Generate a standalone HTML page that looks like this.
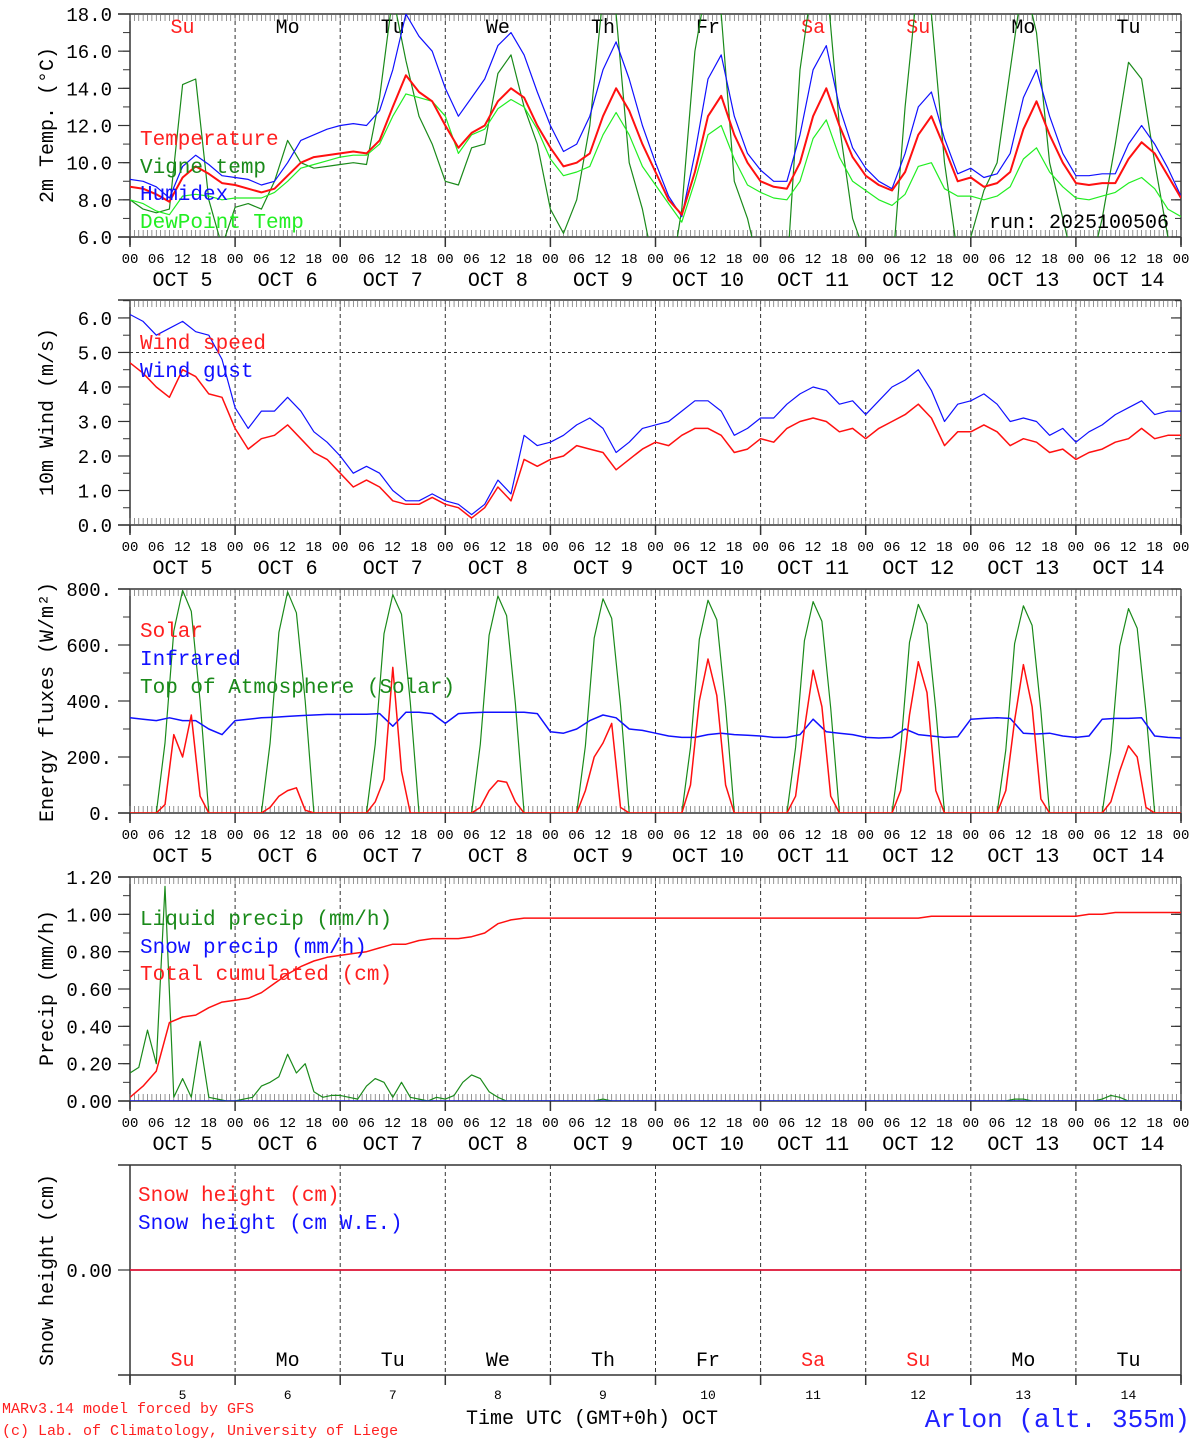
<!DOCTYPE html>
<html><head><meta charset="utf-8"><style>
body{margin:0;background:#fff;}
svg{display:block;font-family:"Liberation Mono","DejaVu Sans Mono",monospace;}
</style></head><body>
<svg id="chart" width="1194" height="1440" viewBox="0 0 1194 1440" xmlns="http://www.w3.org/2000/svg"></svg>
<script>
// ---- data (3-hourly unless noted) ----
const dayNames = ["Su","Mo","Tu","We","Th","Fr","Sa","Su","Mo","Tu"];
const dayNums = ["5","6","7","8","9","10","11","12","13","14"];
const tempTicks = ["6.0","8.0","10.0","12.0","14.0","16.0","18.0"];
const windTicks = ["0.0","1.0","2.0","3.0","4.0","5.0","6.0"];
const fluxTicks = ["0.","200.","400.","600.","800."];
const precTicks = ["0.00","0.20","0.40","0.60","0.80","1.00","1.20"];

const temperature = [8.7,8.6,8.3,7.9,9.2,9.8,9.4,8.9, 8.8,8.6,8.4,8.6,9.3,10.0,10.3,10.4, 10.5,10.6,10.5,11.2,13.0,14.7,13.8,13.3, 12.0,10.8,11.6,12.0,13.3,14.0,13.5,12.0, 10.8,9.8,10.0,10.5,12.5,14.0,12.8,11.0, 9.5,8.0,7.2,9.5,12.5,13.6,11.5,10.0, 9.0,8.7,8.6,10.0,12.5,14.0,12.0,10.3, 9.3,8.8,8.5,9.5,11.5,12.5,10.8,9.0, 9.2,8.7,8.9,9.5,11.8,13.3,11.5,10.0, 8.9,8.8,8.9,8.9,10.2,11.1,10.5,9.3,8.1];
const humidex = [9.1,9.0,8.7,8.1,9.8,10.4,9.9,9.3, 9.2,9.1,8.8,9.0,10.0,11.2,11.5,11.8, 12.0,12.1,12.0,12.8,15.0,18.0,16.8,16.0, 14.0,12.5,13.5,14.5,16.3,17.0,15.8,13.8, 12.0,10.6,11.0,12.5,15.0,16.5,14.5,12.0, 10.0,8.2,7.1,10.5,14.5,15.8,12.5,10.5, 9.6,9.0,9.0,11.5,15.0,16.3,13.0,10.8, 9.7,9.0,8.6,10.5,13.0,13.8,11.3,9.4, 9.7,9.2,9.4,10.5,13.5,15.0,12.5,10.5, 9.3,9.3,9.4,9.4,11.0,12.0,11.0,9.7,8.2];
const dewpoint = [8.0,7.8,7.4,7.2,8.2,8.3,8.2,8.0, 8.1,8.1,8.1,8.4,9.0,9.7,9.9,10.1, 10.3,10.4,10.4,11.0,12.5,13.7,13.5,13.3, 12.5,10.5,11.5,11.8,12.9,13.4,13.0,11.8, 10.2,9.3,9.5,9.8,11.5,12.7,11.5,9.8, 8.8,7.8,6.8,9.0,11.5,12.0,10.2,8.8, 8.4,8.1,8.0,9.0,11.3,12.3,10.3,9.0, 8.5,8.0,7.7,8.3,9.8,10.0,8.6,8.2, 8.2,8.0,8.2,8.7,10.2,10.8,9.5,8.7, 8.1,8.0,8.2,8.4,8.9,9.2,8.6,7.5,7.1];
const vigne = [8.0,7.5,7.3,7.5,14.2,14.5,8.0,5.5, 7.6,7.8,7.5,9.0,11.2,10.0,9.7,9.8, 9.9,10.0,9.9,13.5,19,15.5,12.5,11.0, 9.0,8.8,10.8,11.0,14.8,15.8,13.0,11.0, 7.5,6.2,8.0,12.0,19,18,10.0,7.5, 4.0,3,7.5,16,20,18,9.0,7.0, 4.0,3,4,15,20,20,12,7.0, 5.0,3,4,13,20,18,10,5, 6.0,8.5,10,15,20,17,10,7, 4,4,7,11,15.4,14.5,10,6,4];

const windSpeed = [4.7,4.4,4.0,3.7,4.5,4.3,3.8,3.7, 2.8,2.2,2.5,2.6,2.9,2.5,2.1,1.9, 1.5,1.1,1.3,1.1,0.7,0.6,0.6,0.8, 0.6,0.5,0.2,0.5,1.1,0.7,1.9,1.7, 1.9,2.0,2.3,2.2,2.1,1.6,1.9,2.2, 2.4,2.3,2.6,2.8,2.8,2.6,2.1,2.2, 2.5,2.4,2.8,3.0,3.1,3.0,2.7,2.8, 2.5,2.8,3.0,3.2,3.5,3.1,2.3,2.7, 2.7,2.9,2.7,2.3,2.5,2.4,2.1,2.2, 1.9,2.1,2.2,2.4,2.5,2.8,2.5,2.6,2.6];
const windGust = [6.1,5.9,5.5,5.7,5.9,5.6,5.5,4.8, 3.4,2.8,3.3,3.3,3.7,3.3,2.7,2.4, 2.0,1.5,1.7,1.5,1.0,0.7,0.7,0.9, 0.7,0.6,0.3,0.6,1.3,0.9,2.6,2.3, 2.4,2.6,2.9,3.1,2.8,2.1,2.4,2.8, 2.9,3.0,3.3,3.6,3.6,3.3,2.6,2.8, 3.1,3.1,3.5,3.8,4.0,3.9,3.5,3.6, 3.2,3.6,4.0,4.2,4.5,3.9,3.0,3.5, 3.6,3.8,3.5,3.0,3.1,3.0,2.6,2.8, 2.4,2.7,2.9,3.2,3.4,3.6,3.2,3.3,3.3];

// 2-hourly
const toaSolar = [0,0,0,0,250,650,795,720,400,0,0,0, 0,0,0,0,250,645,790,715,400,0,0,0, 0,0,0,0,245,640,780,710,395,0,0,0, 0,0,0,0,245,635,775,705,390,0,0,0, 0,0,0,0,240,625,765,695,385,0,0,0, 0,0,0,0,235,620,760,690,380,0,0,0, 0,0,0,0,235,615,755,685,375,0,0,0, 0,0,0,0,230,610,745,675,370,0,0,0, 0,0,0,0,225,605,740,670,365,0,0,0, 0,0,0,0,220,595,730,660,360,0,0,0,0];
const solar = [0,0,0,0,30,280,200,350,60,0,0,0, 0,0,0,0,20,60,80,90,10,0,0,0, 0,0,0,0,40,120,520,150,0,0,0,0, 0,0,0,0,20,80,115,110,40,0,0,0, 0,0,0,0,80,200,250,320,20,0,0,0, 0,0,0,0,100,400,550,420,100,0,0,0, 0,0,0,0,60,300,510,380,60,0,0,0, 0,0,0,0,80,350,540,430,80,0,0,0, 0,0,0,0,80,330,530,380,50,0,0,0, 0,0,0,0,40,150,240,200,20,0,0,0,0];
// 3-hourly
const infrared = [340,335,330,340,330,330,300,280, 330,335,340,342,345,348,350,352, 352,353,353,355,310,360,360,355, 320,355,358,360,360,360,360,355, 290,285,300,330,350,340,300,295, 285,275,270,270,280,285,280,278, 275,270,270,280,335,290,285,280, 270,268,270,300,280,275,270,272, 335,338,340,338,285,282,285,275, 270,275,335,338,338,340,275,270,268];

const totalCum = [0.02,0.08,0.16,0.42,0.45,0.46,0.50,0.53, 0.54,0.55,0.58,0.63,0.68,0.72,0.75,0.77, 0.78,0.79,0.80,0.82,0.84,0.84,0.86,0.87, 0.87,0.87,0.88,0.90,0.95,0.97,0.98,0.98, 0.98,0.98,0.98,0.98,0.98,0.98,0.98,0.98, 0.98,0.98,0.98,0.98,0.98,0.98,0.98,0.98, 0.98,0.98,0.98,0.98,0.98,0.98,0.98,0.98, 0.98,0.98,0.98,0.98,0.98,0.99,0.99,0.99, 0.99,0.99,0.99,0.99,0.99,0.99,0.99,0.99, 0.99,1.0,1.0,1.01,1.01,1.01,1.01,1.01,1.01];
// 2-hourly
const liquidPrecip = [0.15,0.18,0.38,0.20,1.15,0.02,0.12,0.02,0.32,0.02,0.01,0, 0,0.01,0.02,0.08,0.10,0.13,0.25,0.15,0.20,0.05,0.02,0.03, 0.03,0.02,0.01,0.08,0.12,0.10,0.02,0.10,0.02,0.01,0,0.02, 0.01,0.03,0.10,0.14,0.12,0.05,0.02,0,0,0,0,0, 0,0,0,0,0,0,0.01,0,0,0,0,0, 0,0,0,0,0,0,0,0,0,0,0,0, 0,0,0,0,0,0,0,0,0,0,0,0, 0,0,0,0,0,0,0,0,0,0,0,0, 0,0,0,0,0,0.01,0.01,0,0,0,0,0, 0,0,0,0.01,0.03,0.02,0,0,0,0,0,0,0];
const snowPrecip = [0,0,0,0,0,0,0,0,0,0,0];   // daily
const snowHeight = [0,0,0,0,0,0,0,0,0,0,0];   // daily
const snowWE = [0,0,0,0,0,0,0,0,0,0,0];       // daily

// ---- drawing ----
const NS="http://www.w3.org/2000/svg";
const svg=document.getElementById('chart');
const X0=130, X1=1181, HOURS=240;
function xAt(h){return X0+(X1-X0)*h/HOURS;}
function mk(tag,attrs,parent){const e=document.createElementNS(NS,tag);for(const k in attrs)e.setAttribute(k,attrs[k]);(parent||svg).appendChild(e);return e;}
function txt(s,x,y,size,color,anchor,parent){const t=mk('text',{x:x,y:y,'font-size':size,fill:color,'text-anchor':anchor||'start'},parent);t.textContent=s;return t;}

const panels=[
 {id:'temp',top:14,bottom:237,vmin:6,vmax:18},
 {id:'wind',top:300,bottom:525,vmin:0,vmax:6.52},
 {id:'flux',top:589,bottom:813,vmin:0,vmax:800},
 {id:'precip',top:877,bottom:1101,vmin:0,vmax:1.2},
 {id:'snow',top:1165,bottom:1375,vmin:-1,vmax:1}
];
function yf(p){return v=>p.bottom-(v-p.vmin)/(p.vmax-p.vmin)*(p.bottom-p.top);}

function frame(p,withHours,withTopTicks){
 const g=mk('g',{});
 
 
 mk('line',{x1:118,x2:X1,y1:p.top,y2:p.top,stroke:'#333','stroke-width':1.5},g);
 mk('line',{x1:118,x2:X1,y1:p.bottom,y2:p.bottom,stroke:'#333','stroke-width':1.5},g);
 mk('line',{x1:X0,x2:X0,y1:p.top,y2:p.bottom+8,stroke:'#333','stroke-width':1.5},g);
 mk('line',{x1:X1,x2:X1,y1:p.top,y2:p.bottom+8,stroke:'#333','stroke-width':1.5},g);
 for(let d=1;d<10;d++){const x=xAt(d*24);mk('line',{x1:x,x2:x,y1:p.top,y2:p.bottom,stroke:'#333','stroke-width':1,'stroke-dasharray':'4,3'},g);}
 if(withTopTicks){
  let dd='';
  for(let h=0;h<=240;h++){const x=xAt(h);dd+=`M${x},${p.top}v7M${x},${p.bottom}v-7`;}
  mk('path',{d:dd,stroke:'#666','stroke-width':0.7,fill:'none'},g);
  let md='';
  for(let d=0;d<=10;d++){const x=xAt(d*24);md+=`M${x},${p.bottom}v10`;}
  mk('path',{d:md,stroke:'#333','stroke-width':1.5},g);
 }
 if(withHours){
  for(let h=0;h<=240;h+=6){const lab=['00','06','12','18'][(h/6)%4];const t=txt(lab,xAt(h),p.bottom+26,14,'#000','middle',g);
   
   }
  for(let d=0;d<10;d++){const s='OCT '+(dayNums[d].length<2?' ':'')+dayNums[d];const t=txt(s,xAt(d*24+12),p.bottom+49,20,'#000','middle',g);
   
   }
 }
 return g;
}
function yTicks(p,labels,vals,minorStep){
 const y=yf(p);
 labels.forEach((l,i)=>{const yy=y(vals[i]);
  mk('line',{x1:118,x2:X0,y1:yy,y2:yy,stroke:'#333','stroke-width':1.2});
  mk('line',{x1:X1-10,x2:X1,y1:yy,y2:yy,stroke:'#333','stroke-width':1.2});
  const t=txt(l,112,yy+7,19,'#000','end');
  
  
 });
 if(minorStep){for(let v=p.vmin;v<=p.vmax+1e-9;v+=minorStep){const yy=y(v);mk('line',{x1:123,x2:X0,y1:yy,y2:yy,stroke:'#333','stroke-width':1});mk('line',{x1:X1-6,x2:X1,y1:yy,y2:yy,stroke:'#333','stroke-width':1});}}
}
function series(p,arr,stepH,color,w,name){
 const y=yf(p);
 const pts=arr.map((v,i)=>xAt(i*stepH).toFixed(1)+','+y(v).toFixed(1)).join(' ');
 const pl=mk('polyline',{points:pts,fill:'none',stroke:color,'stroke-width':w,'clip-path':'url(#clip-'+p.id+')','stroke-linejoin':'round'});
 
 
}
function ytitle(s,cy){const t=txt(s,0,0,20,'#000','middle');t.setAttribute('transform',`translate(53,${cy}) rotate(-90)`);
 
 }
function legend(s,x,y,color){const t=txt(s,x,y,21,color);
 
 }

const defs=mk('defs',{});
panels.forEach(p=>{const c=mk('clipPath',{id:'clip-'+p.id},defs);mk('rect',{x:X0,y:p.top,width:X1-X0,height:p.bottom-p.top},c);});

// panel 1
const P1=panels[0];
frame(P1,true,true);
yTicks(P1,tempTicks,[6,8,10,12,14,16,18],1);
dayNames.forEach((n,i)=>{const t=txt(n,xAt(i*24+12),33,20,(n==='Su'||n==='Sa')?'#ff2020':'#000','middle');
 
 });
series(P1,vigne,3,'#1a8a1a',1.2,'vigne-temp-line');
series(P1,dewpoint,3,'#22ee22',1.2,'dewpoint-line');
series(P1,humidex,3,'#1010ff',1.2,'humidex-line');
series(P1,temperature,3,'#ff1010',2,'temperature-line');
legend('Temperature',140,145,'#ff2020');
legend('Vigne temp',140,173,'#1a8a1a');
legend('Humidex',140,200,'#1010ff');
legend('DewPoint Temp',140,228,'#22ee22');
{const t=txt('run: 2025100506',1169,228,20,'#000','end');}
ytitle('2m Temp. (\u00B0C)',125);

// panel 2
const P2=panels[1];
frame(P2,true,true);
yTicks(P2,windTicks,[0,1,2,3,4,5,6],0.5);
{const y=yf(P2)(5);mk('line',{x1:X0,x2:X1,y1:y,y2:y,stroke:'#333','stroke-width':1,'stroke-dasharray':'3,3'});}
series(P2,windGust,3,'#1010ff',1.2,'wind-gust-line');
series(P2,windSpeed,3,'#ff1010',1.5,'wind-speed-line');
legend('Wind speed',140,349,'#ff2020');
legend('Wind gust',140,377,'#1010ff');
ytitle('10m Wind (m/s)',412);

// panel 3
const P3=panels[2];
frame(P3,true,true);
yTicks(P3,fluxTicks,[0,200,400,600,800],100);
series(P3,toaSolar,2,'#1a8a1a',1.2,'toa-solar-line');
series(P3,infrared,3,'#1010ff',1.5,'infrared-line');
series(P3,solar,2,'#ff1010',1.5,'solar-line');
legend('Solar',140,637,'#ff2020');
legend('Infrared',140,665,'#1010ff');
legend('Top of Atmosphere (Solar)',140,693,'#1a8a1a');
ytitle('Energy fluxes (W/m\u00B2)',702);

// panel 4
const P4=panels[3];
frame(P4,true,true);
yTicks(P4,precTicks,[0,0.2,0.4,0.6,0.8,1.0,1.2],0.1);
series(P4,liquidPrecip,2,'#1a8a1a',1.2,'liquid-precip-line');
series(P4,snowPrecip,24,'#1010ff',1.2,'snow-precip-line');
series(P4,totalCum,3,'#ff1010',1.5,'total-cumulated-line');
legend('Liquid precip (mm/h)',140,925,'#1a8a1a');
legend('Snow precip (mm/h)',140,953,'#1010ff');
legend('Total cumulated (cm)',140,980,'#ff2020');
ytitle('Precip (mm/h)',988);

// panel 5
const P5=panels[4];
frame(P5,false,false);
{let md='';for(let d=0;d<=10;d++){const x=xAt(d*24);md+=`M${x},${P5.bottom}v10`;}mk('path',{d:md,stroke:'#333','stroke-width':1.5});}
yTicks(P5,['0.00'],[0],0);
series(P5,snowWE,24,'#1010ff',1.5,'snow-we-line');
series(P5,snowHeight,24,'#ff1010',1.5,'snow-height-line');
legend('Snow height (cm)',138,1201,'#ff2020');
legend('Snow height (cm W.E.)',138,1229,'#1010ff');
ytitle('Snow height (cm)',1270);
dayNames.forEach((n,i)=>{const t=txt(n,xAt(i*24+12),1366,20,(n==='Su'||n==='Sa')?'#ff2020':'#000','middle');
 
 
 const t2=txt(dayNums[i],xAt(i*24+12),1399,13,'#000','middle');
 
 });

// footer
{let t=txt('MARv3.14 model forced by GFS',2,1413,15,'#ff2020');
 t=txt('(c) Lab. of Climatology, University of Liege',2,1435,15,'#ff2020');
 t=txt('Time UTC (GMT+0h) OCT',592,1424,20,'#000','middle');
 t=txt('Arlon (alt. 355m)',1190,1427,26,'#2020ff','end');}
</script>
</body></html>
